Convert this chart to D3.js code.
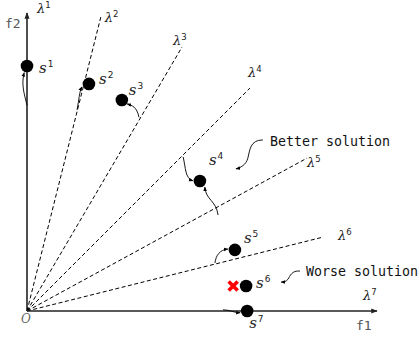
<!DOCTYPE html>
<html><head><meta charset="utf-8">
<script src="https://cdn.jsdelivr.net/npm/d3@7"></script>
<style>
html,body{margin:0;padding:0;background:#fff;}
svg{display:block;}
.mono{font-family:"DejaVu Sans Mono",monospace;}
.it{font-family:"DejaVu Serif",serif;font-style:italic;}
</style></head>
<body><svg id="c" width="419" height="337"></svg>
<script>
// ---- data ----
const lambdaNames = ["λ1","λ2","λ3","λ4","λ5","λ6","λ7"];
const lambdaEndF1 = [0, 0.211, 0.443, 0.637, 0.800, 0.846, 1];
const lambdaEndF2 = [1, 0.987, 0.886, 0.748, 0.513, 0.248, 0];
const solNames = ["s1","s2","s3","s4","s5","s6","s7"];
const solF1 = [0, 0.177, 0.271, 0.494, 0.594, 0.626, 0.629];
const solF2 = [0.822, 0.762, 0.708, 0.436, 0.205, 0.084, 0];
const worseF1 = [0.589];
const worseF2 = [0.084];
const noteTexts = ["Better solution", "Worse solution"];
const axisLabels = ["f1", "f2", "O"];

// ---- layout ----
const svg = d3.select("#c");
const x = d3.scaleLinear().domain([0,1]).range([27,377]);
const y = d3.scaleLinear().domain([0,1]).range([311,13]);

const defs = svg.append("defs");
defs.append("marker").attr("id","ah").attr("viewBox","0 0 10 10")
  .attr("refX",9).attr("refY",5).attr("markerWidth",5).attr("markerHeight",5)
  .attr("orient","auto").append("path").attr("d","M0,1 L10,5 L0,9 Z").attr("fill","#000");
defs.append("marker").attr("id","axh").attr("viewBox","0 0 10 10")
  .attr("refX",9).attr("refY",5).attr("markerWidth",4).attr("markerHeight",4)
  .attr("orient","auto").append("path").attr("d","M0,1 L10,5 L0,9 Z").attr("fill","#222");

lambdaNames.forEach((n,i)=>{
  const isAxis = (i===0 || i===lambdaNames.length-1);
  svg.append("line")
    .attr("x1",x(0)).attr("y1",y(0))
    .attr("x2",x(lambdaEndF1[i])).attr("y2",y(lambdaEndF2[i]))
    .attr("stroke", isAxis ? "#222" : "#000")
    .attr("stroke-width", isAxis ? 1.6 : 1)
    .attr("stroke-dasharray", isAxis ? null : "4,2.5")
    .attr("marker-end", isAxis ? "url(#axh)" : null);
});

// lambda labels
const lamOff = [[10,0],[4,5],[-9,-2],[-2,-11],[0,9],[15,3],[-14,-11]];
lambdaNames.forEach((n,i)=>{
  const t = svg.append("text").attr("class","it").attr("font-size",13).attr("fill","#222")
    .attr("x", x(lambdaEndF1[i]) + lamOff[i][0])
    .attr("y", y(lambdaEndF2[i]) + lamOff[i][1]);
  t.append("tspan").text(n[0]);
  t.append("tspan").attr("font-family","DejaVu Sans").attr("font-style","normal")
    .attr("font-size",8.5).attr("dy",-5).text(n.slice(1));
});

// curved arrows (annotations), in data units: start, c1, c2, end
const arrows = [
  [[0,0.69],[-0.008,0.73],[-0.017,0.76],[-0.008,0.80]],
  [[0.143,0.675],[0.149,0.71],[0.149,0.735],[0.157,0.752]],
  [[0.32,0.65],[0.314,0.685],[0.30,0.69],[0.286,0.695]],
  [[0.446,0.517],[0.454,0.48],[0.451,0.446],[0.474,0.437]],
  [[0.546,0.322],[0.54,0.372],[0.511,0.372],[0.508,0.416]],
  [[0.537,0.161],[0.54,0.188],[0.551,0.205],[0.574,0.208]],
  [[0.560,0.004],[0.58,0.004],[0.592,-0.006],[0.609,-0.006]]
];
const line = (a)=>{
  const p = d3.path();
  p.moveTo(x(a[0][0]),y(a[0][1]));
  p.bezierCurveTo(x(a[1][0]),y(a[1][1]),x(a[2][0]),y(a[2][1]),x(a[3][0]),y(a[3][1]));
  return p.toString();
};
arrows.forEach(a=>{
  svg.append("path").attr("d",line(a)).attr("fill","none").attr("stroke","#000")
    .attr("stroke-width",0.9).attr("marker-end","url(#ah)");
});
const wavy = [
  [[0.674,0.574],[0.637,0.574],[0.637,0.540],[0.631,0.513],[0.626,0.490],[0.609,0.480],[0.597,0.477]],
  [[0.780,0.134],[0.757,0.137],[0.751,0.117],[0.746,0.107],[0.740,0.097],[0.731,0.097],[0.726,0.097]]
];
wavy.forEach(a=>{
  const p = d3.path();
  p.moveTo(x(a[0][0]),y(a[0][1]));
  p.bezierCurveTo(x(a[1][0]),y(a[1][1]),x(a[2][0]),y(a[2][1]),x(a[3][0]),y(a[3][1]));
  p.bezierCurveTo(x(a[4][0]),y(a[4][1]),x(a[5][0]),y(a[5][1]),x(a[6][0]),y(a[6][1]));
  svg.append("path").attr("d",p.toString()).attr("fill","none").attr("stroke","#000")
    .attr("stroke-width",0.9).attr("marker-end","url(#ah)");
});

// solutions
solNames.forEach((n,i)=>{
  svg.append("circle").attr("cx",x(solF1[i])).attr("cy",y(solF2[i])).attr("r",6.3).attr("fill","#000");
});
worseF1.forEach((v,i)=>{
  const g = svg.append("g").attr("transform",`translate(${x(v)},${y(worseF2[i])})`);
  [[-4.5,-4.5,4.5,4.5],[-4.5,4.5,4.5,-4.5]].forEach(s=>{
    g.append("line").attr("x1",s[0]).attr("y1",s[1]).attr("x2",s[2]).attr("y2",s[3])
      .attr("stroke","#f00").attr("stroke-width",3.6);
  });
});
const solOff = [[12,7],[10,0],[7,-5],[9,-16],[9,-7],[10,2],[2,17]];
solNames.forEach((n,i)=>{
  const t = svg.append("text").attr("class","it").attr("font-size",15).attr("fill","#222")
    .attr("x", x(solF1[i]) + solOff[i][0]).attr("y", y(solF2[i]) + solOff[i][1]);
  t.append("tspan").text(n[0]);
  t.append("tspan").attr("font-family","DejaVu Sans").attr("font-style","normal")
    .attr("font-size",9).attr("dx",1).attr("dy",-6).text(n.slice(1));
});

// notes
svg.append("text").attr("class","mono").attr("font-size",13.3).attr("fill","#111")
  .attr("x",x(0.694)).attr("y",y(0.555)).text(noteTexts[0]);
svg.append("text").attr("class","mono").attr("font-size",13.3).attr("fill","#111")
  .attr("x",x(0.797)).attr("y",y(0.117)).text(noteTexts[1]);

// axis labels
svg.append("text").attr("class","mono").attr("font-size",13).attr("fill","#555")
  .attr("x",x(0.94)).attr("y",y(-0.064)).text(axisLabels[0]);
svg.append("text").attr("class","mono").attr("font-size",13).attr("fill","#555")
  .attr("x",x(-0.063)).attr("y",y(0.95)).text(axisLabels[1]);
svg.append("text").attr("class","it").attr("font-family","DejaVu Sans").attr("font-size",12).attr("fill","#666")
  .attr("x",x(-0.017)).attr("y",y(-0.04)).text(axisLabels[2]);
</script></body></html>
